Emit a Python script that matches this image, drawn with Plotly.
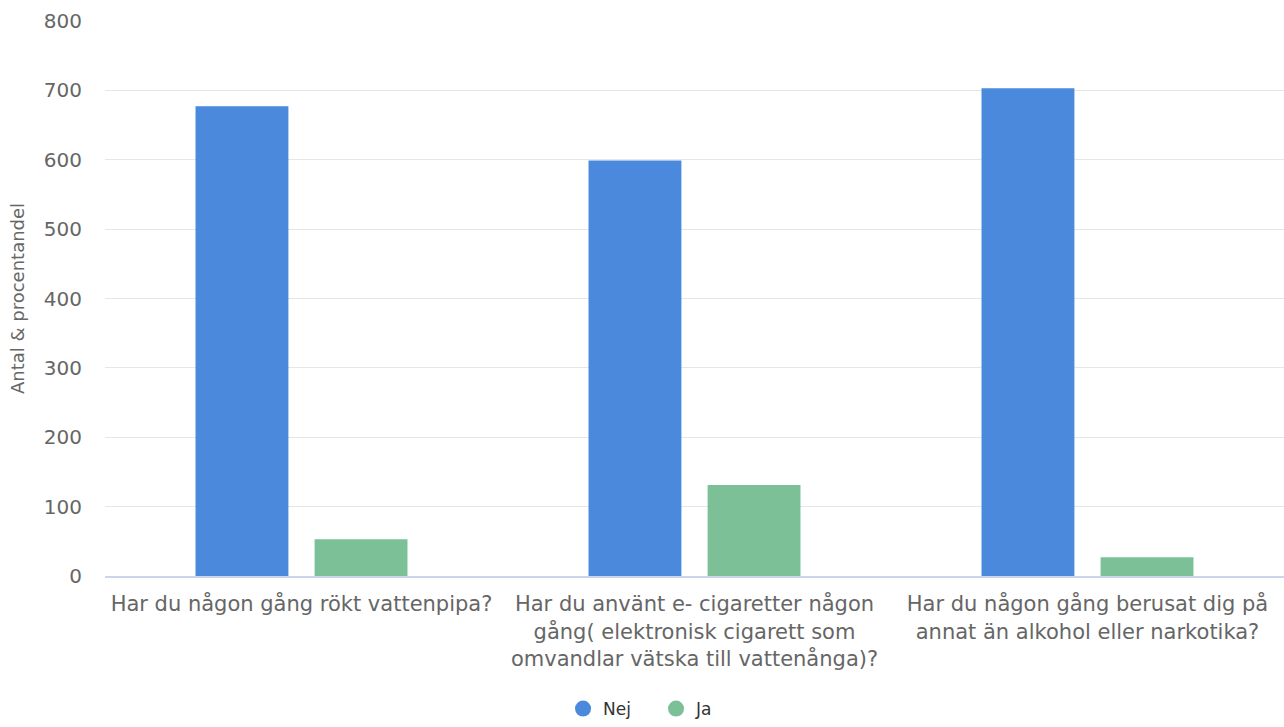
import plotly.graph_objects as go

categories = [
    "Har du någon gång rökt vattenpipa?",
    "Har du använt e- cigaretter någon<br>gång( elektronisk cigarett som<br>omvandlar vätska till vattenånga)?",
    "Har du någon gång berusat dig på<br>annat än alkohol eller narkotika?",
]
nej = [677, 599, 703]
ja = [53, 131, 27]
series_names = ["Nej", "Ja"]
colors = ["#4a89dc", "#7cc098"]
y_ticks = [0, 100, 200, 300, 400, 500, 600, 700, 800]

font_family = "DejaVu Sans, Verdana, sans-serif"

fig = go.Figure()
for name, vals, col in zip(series_names, [nej, ja], colors):
    fig.add_trace(go.Bar(x=categories, y=vals, name=name, marker_color=col,
                         marker_line_width=0, showlegend=False))
for name, col in zip(series_names, colors):
    fig.add_trace(go.Scatter(x=[None], y=[None], mode="markers", name=name,
                             marker=dict(symbol="circle", size=20, color=col)))

fig.update_layout(
    width=1284, height=727,
    margin=dict(l=105, r=0, t=21, b=149),
    plot_bgcolor="white", paper_bgcolor="white",
    barmode="group", bargap=0.394, bargroupgap=0.22,
    font=dict(family=font_family, color="#666666"),
    legend=dict(orientation="h", x=0.3885, xanchor="left", y=-0.2406, yanchor="middle",
                font=dict(size=17, color="#333333"), itemwidth=30, entrywidth=48),
    xaxis=dict(tickfont=dict(size=21, color="#666666"), showgrid=False, automargin=False,
               showline=True, linecolor="#ccd6eb", linewidth=2, ticks="", ticklabelstandoff=8),
    yaxis=dict(range=[0, 800], tickvals=y_ticks, tickfont=dict(size=20, color="#666666"),
               showgrid=True, gridcolor="#e6e6e6", gridwidth=1, zeroline=False, automargin=False,
               title=dict(text="Antal & procentandel", font=dict(size=18, color="#666666"), standoff=14),
               ticklabelstandoff=22),
)
fig.write_html("out.html", config={"displayModeBar": False},
               post_script="document.body.style.margin='0';document.body.style.overflow='hidden';")
